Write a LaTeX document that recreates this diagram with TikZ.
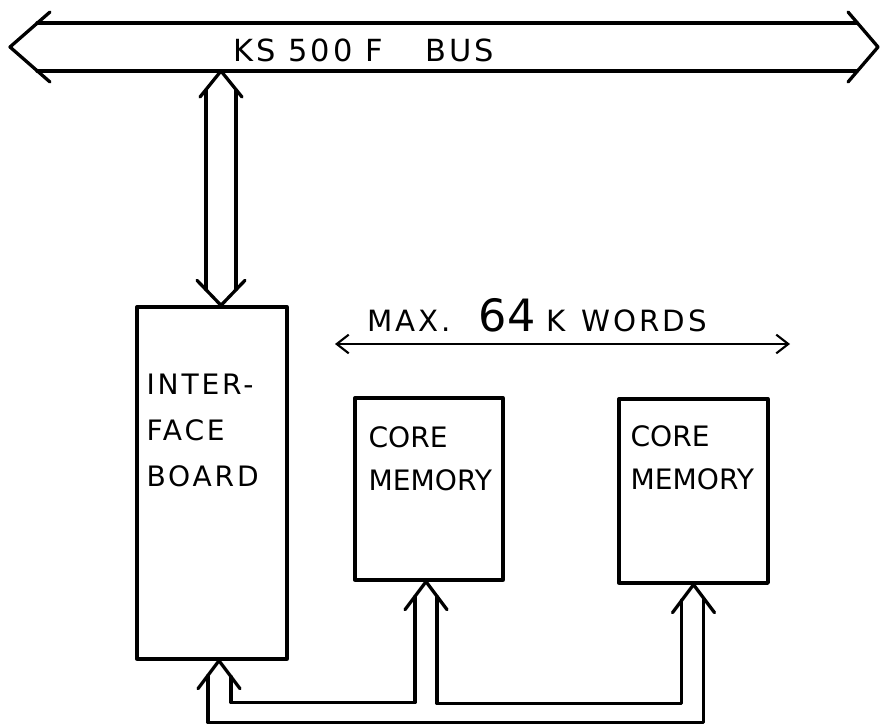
\documentclass[tikz,border=0pt]{standalone}
\usepackage{fontspec}
\setmainfont{DejaVu Sans}
\usetikzlibrary{arrows.meta,positioning}

\tikzset{
  ink/.style={line width=2.8pt, line cap=round, line join=round},
  boardbox/.style={ink, draw, rectangle, inner sep=0pt},
  boxtext/.style={anchor=north west, inner sep=0pt, align=left, font=\fontsize{24}{37}\selectfont},
  span/.style={line width=1.8pt, {Straight Barb[length=3.6mm,width=5.6mm]}-{Straight Barb[length=3.6mm,width=5.6mm]}}
}

\begin{document}
\begin{tikzpicture}[x=0.03cm,y=-0.03cm]
\useasboundingbox (0,0) rectangle (881,724);
% bus
\node[minimum width=24.6cm, minimum height=1.44cm, inner sep=0pt, outer sep=0pt] (bus) at (447,47) {};
\draw[ink] (bus.north west) -- (bus.north east);
\draw[ink] (bus.south west) -- (bus.south east);
\draw[ink] ([shift={(13,-35)}]bus.west) -- ([shift={(-27,0)}]bus.west) -- ([shift={(13,35)}]bus.west);
\draw[ink] ([shift={(-9,-35)}]bus.east) -- ([shift={(21,0)}]bus.east) -- ([shift={(-9,35)}]bus.east);
\node[anchor=base west, inner sep=0pt, font=\fontsize{26}{26}\selectfont\addfontfeatures{LetterSpace=10}] (bustext) at (233,61) {KS 500 F\hspace{1.4em}BUS};
% boards
\node[boardbox, minimum width=4.5cm, minimum height=10.56cm] (iface) at (212,483) {};
\node[boardbox, minimum width=4.44cm, minimum height=5.46cm] (core1) at (429,489) {};
\node[boardbox, minimum width=4.47cm, minimum height=5.52cm] (core2) at (693.5,491) {};
\node[boxtext, font=\fontsize{24}{39.5}\selectfont\addfontfeatures{LetterSpace=10}] (ifacetext) at ([shift={(11,68)}]iface.north west) {INTER-\\FACE\\BOARD};
\node[boxtext] (core1text) at ([shift={(15,30)}]core1.north west) {CORE\\MEMORY};
\node[boxtext] (core2text) at ([shift={(13,28)}]core2.north west) {CORE\\MEMORY};
% address range
\coordinate (spanL) at (335,344);
\coordinate (spanR) at (790,344);
\draw[span] (spanL) -- (spanR);
\node[anchor=base west, inner sep=0pt, font=\fontsize{25}{25}\selectfont\addfontfeatures{LetterSpace=10}] (spantext) at (367,331) {MAX.\hspace{24pt}{\fontsize{38}{38}\selectfont\addfontfeatures{LetterSpace=0}64}\hspace{9pt}K\hspace{14pt}WORDS};
% bus to interface
\coordinate (bustap) at (221,71);
\coordinate (ifacetop) at ([shift={(9,0)}]iface.north);
\draw[ink] ([shift={(-21,26)}]bustap) -- (bustap) -- ([shift={(21,26)}]bustap);
\draw[ink] ([shift={(-15,19)}]bustap) -- ([shift={(-15,-16)}]ifacetop);
\draw[ink] ([shift={(15,19)}]bustap) -- ([shift={(15,-16)}]ifacetop);
\draw[ink] ([shift={(-24,-25)}]ifacetop) -- (ifacetop) -- ([shift={(24,-25)}]ifacetop);
% memory bus
\coordinate (ifacebot) at ([shift={(7,0)}]iface.south);
\coordinate (core1bot) at ([shift={(-3,0)}]core1.south);
\coordinate (core2bot) at (core2.south);
\foreach \p in {ifacebot,core1bot,core2bot}
  \draw[ink] ([shift={(-21,28)}]\p) -- (\p) -- ([shift={(21,28)}]\p);
\draw[ink] ([shift={(12,16)}]ifacebot) -- ++(0,26) -| ([shift={(-11,15)}]core1bot);
\draw[ink] ([shift={(11,15)}]core1bot) -- ++(0,107) -| ([shift={(-12,15)}]core2bot);
\draw[ink] ([shift={(-11,15)}]ifacebot) -- ++(0,47) -| ([shift={(10,15)}]core2bot);
\end{tikzpicture}
\end{document}
